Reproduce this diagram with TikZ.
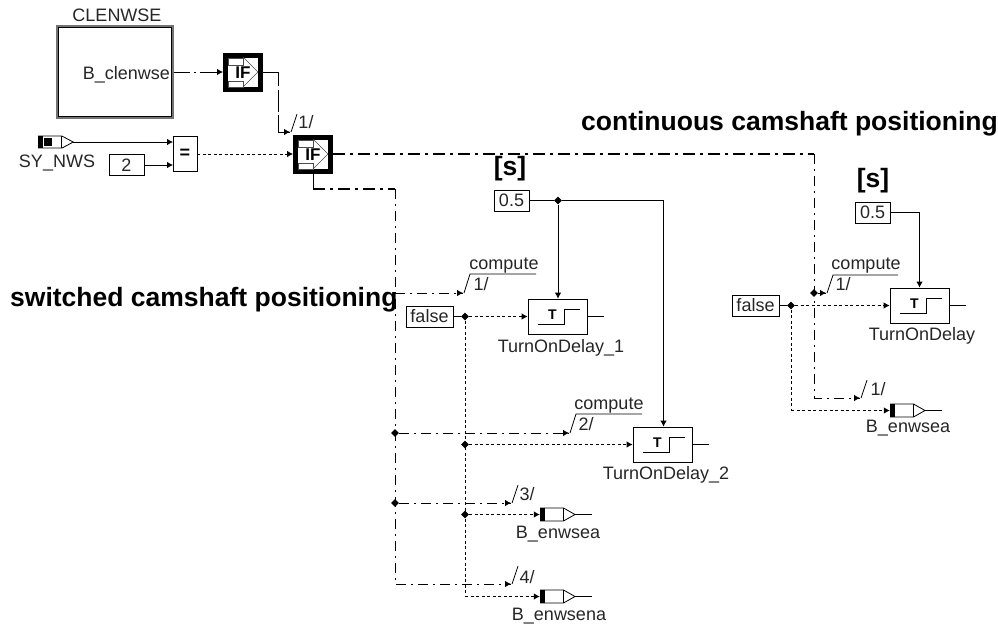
\documentclass[tikz,border=0pt]{standalone}
\usepackage{fontspec}
\setmainfont{Liberation Sans}
\usetikzlibrary{arrows.meta,calc,shapes.geometric}
\tikzset{
  lbl/.style={inner sep=0pt, text=black!85, font=\fontsize{18}{18}\selectfont},
  head/.style={inner sep=0pt, font=\bfseries\fontsize{26.5}{26.5}\selectfont},
  constbox/.style={draw, line width=0.8pt, minimum height=21pt, inner sep=0pt, text=black!85, font=\fontsize{18}{18}\selectfont},
  delaybox/.style={draw, line width=0.8pt, minimum width=59pt, minimum height=35pt, inner sep=0pt},
  ifbox/.style={draw, line width=5pt, minimum width=35pt, minimum height=34pt, inner sep=0pt},
  dot/.style={diamond, fill=black, inner sep=0pt, minimum size=8pt},
  sig/.style={line width=0.8pt, -{Latex[length=6pt,width=6.5pt]}},
  plain/.style={line width=0.8pt},
  dotted sig/.style={sig, dash pattern=on 3pt off 2.5pt},
  dotted line/.style={plain, dash pattern=on 3pt off 2.5pt},
  dashdot/.style={line width=1pt, dash pattern=on 10pt off 5pt on 2pt off 5pt},
  thick dashdot/.style={line width=1.8pt, dash pattern=on 12pt off 5pt on 3pt off 5pt},
}
\newcommand{\delayicon}[1]{
  \draw[line width=1.9pt] ($(#1)+(-20,8)$) -- ($(#1)+(7,8)$) -- ($(#1)+(7,-7)$) -- ($(#1)+(22,-7)$);
  \node[inner sep=0pt, font=\bfseries\fontsize{14}{14}\selectfont] at ($(#1)+(-5,-2)$) {T};
}
\newcommand{\ificon}[1]{
  \draw[line width=0.6pt, black!70] ($(#1)+(-15,-14)$) rectangle ($(#1)+(0,-7)$);
  \draw[line width=0.6pt, black!70] ($(#1)+(-15,9)$) rectangle ($(#1)+(0,15)$);
  \draw[line width=0.6pt, black!70] ($(#1)+(0,-15)$) -- ($(#1)+(15,0)$) -- ($(#1)+(0,15)$);
  \node[inner sep=0pt, font=\bfseries\fontsize{17}{17}\selectfont] at ($(#1)+(0,0.5)$) {IF};
}
\newcommand{\outicon}[1]{
  \fill ($(#1)+(-17.5,-6.5)$) rectangle ($(#1)+(-12.5,6.5)$);
  \draw[line width=0.8pt] ($(#1)+(-17.5,-6.5)$) -- ($(#1)+(6,-6.5)$) -- ($(#1)+(17.5,0)$) -- ($(#1)+(6,6.5)$) -- ($(#1)+(-17.5,6.5)$);
  \draw[line width=0.8pt] ($(#1)+(6,-6.5)$) -- ($(#1)+(6,6.5)$);
}
\begin{document}
\begin{tikzpicture}[x=1pt, y=-1pt]
  \useasboundingbox (0,0) rectangle (998,627);

  % Define nodes
  \node[draw, black!55, line width=1.5pt, minimum width=116pt, minimum height=92pt, inner sep=0pt] (clen) at (115,72) {};
  \node[draw, line width=0.8pt, minimum width=113pt, minimum height=89pt, inner sep=0pt] (cleni) at (115,72) {};
  \node[lbl] (clent) at (117,15) {CLENWSE};
  \node[lbl, anchor=east] (clenp) at (170,75) {B\_clenwse};
  \node[ifbox] (if1) at (243,72) {};
  \node[ifbox] (if2) at (313,154) {};
  \node[minimum width=35pt, minimum height=12pt, inner sep=0pt] (nws) at (55.5,142) {};
  \node[lbl] (nwst) at (57,163) {SY\_NWS};
  \node[constbox, minimum width=35pt] (two) at (126.5,165) {2};
  \node[draw, line width=0.8pt, minimum width=24pt, minimum height=35pt, inner sep=0pt, font=\bfseries\fontsize{18}{18}\selectfont] (eq) at (185,154) {=};

  \node[constbox, minimum width=35pt] (t1) at (511.5,200.5) {0.5};
  \node[constbox, minimum width=35pt] (t2) at (872.5,212.5) {0.5};
  \node[head] (s1) at (510,169) {[s]};
  \node[head] (s2) at (873,181) {[s]};
  \node[head, anchor=east] (cont) at (998,124) {continuous camshaft positioning};

  \node[constbox, minimum width=47pt] (f1) at (429.5,316.5) {false};
  \node[constbox, minimum width=47pt] (f2) at (755.5,305.5) {false};
  \node[delaybox] (d1) at (557.5,316.5) {};
  \node[delaybox] (d2) at (662.5,444.5) {};
  \node[delaybox] (d3) at (919.5,305.5) {};
  \node[lbl] (d1t) at (561,348) {TurnOnDelay\_1};
  \node[lbl] (d2t) at (666,475) {TurnOnDelay\_2};
  \node[lbl] (d3t) at (922,336) {TurnOnDelay};

  \node[minimum width=35pt, minimum height=13pt, inner sep=0pt] (o1) at (557.5,514.5) {};
  \node[minimum width=35pt, minimum height=13pt, inner sep=0pt] (o2) at (557.5,596.5) {};
  \node[minimum width=35pt, minimum height=13pt, inner sep=0pt] (o3) at (907.5,410.5) {};
  \node[lbl] (o1t) at (558,534) {B\_enwsea};
  \node[lbl] (o2t) at (559,616) {B\_enwsena};
  \node[lbl] (o3t) at (908,428) {B\_enwsea};

  \node[dot] (j1) at (395,433) {};
  \node[dot] (j2) at (395,503) {};
  \node[dot] (j3) at (465,316.5) {};
  \node[dot] (j4) at (465,444.5) {};
  \node[dot] (j5) at (465,514.5) {};
  \node[dot] (j6) at (558,200.5) {};
  \node[dot] (j7) at (814,293) {};
  \node[dot] (j8) at (791,305.5) {};

  \coordinate (a1) at (278,72);
  \coordinate (a2) at (278,132);
  \coordinate (a3) at (290,132);
  \coordinate (b1) at (313,189);
  \coordinate (b2) at (395,189);
  \coordinate (b3) at (395,293);
  \coordinate (b4) at (463,293);
  \coordinate (b5) at (569,433);
  \coordinate (b6) at (511,503);
  \coordinate (b7) at (395,584);
  \coordinate (b8) at (511,584);
  \coordinate (c1) at (814,154);
  \coordinate (c2) at (826,293);
  \coordinate (c3) at (814,398);
  \coordinate (c4) at (860,398);
  \coordinate (e1) at (465,596.5);
  \coordinate (e2) at (791,410.5);
  \coordinate (g1) at (663.5,200.5);
  \coordinate (g2) at (919.5,212.5);
  \coordinate (n1) at (173,142);
  \coordinate (n2) at (173,165);
  \coordinate (r1) at (604,316.5);
  \coordinate (r2) at (709,444.5);
  \coordinate (r3) at (966,305.5);
  \coordinate (r4) at (592,514.5);
  \coordinate (r5) at (592,596.5);
  \coordinate (r6) at (942,410.5);

  % Draw arrows
  \draw[sig, dash pattern=on 16pt off 4pt on 2pt off 4pt on 50pt] (clen.east) -- (if1.west);
  \draw[plain] (if1.east) -- (a1);
  \draw[plain, dash pattern=on 14pt off 4pt on 22pt off 3pt on 40pt] (a1) -- (a2);
  \draw[plain] (a2) -- (a3);
  \draw[sig] (nws.east) -- (n1);
  \draw[sig] (two.east) -- (n2);
  \draw[dotted sig] (eq.east) -- (if2.west);
  \draw[thick dashdot] (if2.east) -- (c1);
  \draw[dashdot] (c1) -- (c3) -- (c4);
  \draw[line width=0.8pt] (if2.south) -- (b1);
  \draw[thick dashdot] (b1) -- (b2);
  \draw[dashdot] (b2) -- (b7) -- (b8);
  \draw[dashdot] (b3) -- (b4);
  \draw[dashdot] (j1) -- (b5);
  \draw[dashdot] (j2) -- (b6);
  \draw[dashdot] (j7) -- (c2);
  \foreach \p in {a3,b4,b5,b6,b8,c2,c4}
    \draw[sig] ($(\p)+(-6,0)$) -- (\p);

  \draw[plain] (f1.east) -- (j3);
  \draw[dotted sig] (j3) -- (d1.west);
  \draw[dotted line] (j3) -- (e1);
  \draw[dotted sig] (j4) -- (d2.west);
  \draw[dotted sig] (j5) -- (o1.west);
  \draw[dotted sig] (e1) -- (o2.west);
  \draw[plain] (f2.east) -- (j8);
  \draw[dotted sig] (j8) -- (d3.west);
  \draw[dotted line] (j8) -- (e2);
  \draw[dotted sig] (e2) -- (o3.west);

  \draw[plain] (t1.east) -- (j6);
  \draw[sig] (j6) -- (d1.north -| j6);
  \draw[plain] (j6) -- (g1);
  \draw[sig] (g1) -- (d2.north -| g1);
  \draw[plain] (t2.east) -- (g2);
  \draw[sig] (g2) -- (d3.north);

  \draw[plain] (d1.east) -- (r1);
  \draw[plain] (d2.east) -- (r2);
  \draw[plain] (d3.east) -- (r3);
  \draw[plain] (o1.east) -- (r4);
  \draw[plain] (o2.east) -- (r5);
  \draw[plain] (o3.east) -- (r6);

  % Bus selectors
  \draw[plain] (a3) ++(1,0) -- ++(6,-18);
  \draw[plain] (b4) ++(1,0) -- ++(6,-19) -- ++(66,0);
  \draw[plain] (b5) ++(1,0) -- ++(6,-19) -- ++(66,0);
  \draw[plain] (b6) ++(1,0) -- ++(6,-18);
  \draw[plain] (b8) ++(1,0) -- ++(6,-18);
  \draw[plain] (c2) ++(1,0) -- ++(6,-18) -- ++(65,0);
  \draw[plain] (c4) ++(1,0) -- ++(6,-18);
  \node[lbl] (k1) at (504,266) {compute};
  \node[lbl] (k2) at (609,406) {compute};
  \node[lbl] (k3) at (866,266) {compute};
  \node[lbl] (m0) at (306,122) {1/};
  \node[lbl] (m1) at (481,284) {1/};
  \node[lbl] (m2) at (586,424) {2/};
  \node[lbl] (m3) at (527,494) {3/};
  \node[lbl] (m4) at (527,577) {4/};
  \node[lbl] (m5) at (843,284) {1/};
  \node[lbl] (m6) at (878,389) {1/};
  \node[head, anchor=west] (swit) at (10,300) {switched camshaft positioning};

  % Block symbols
  \ificon{if1}
  \ificon{if2}
  \delayicon{d1}
  \delayicon{d2}
  \delayicon{d3}
  \outicon{o1}
  \outicon{o2}
  \outicon{o3}
  \fill (nws.west) ++(0,-6) rectangle ++(5,12);
  \fill (nws.center) ++(-12,-4) rectangle ++(8,8);
  \draw[line width=0.8pt] (nws.west) ++(0,-6) -- ++(24,0) -- (nws.east) -- ++(-11,6) -- ++(-24,0);
  \draw[line width=0.8pt] (nws.center) ++(6,-6) -- ++(0,12);
\end{tikzpicture}
\end{document}
